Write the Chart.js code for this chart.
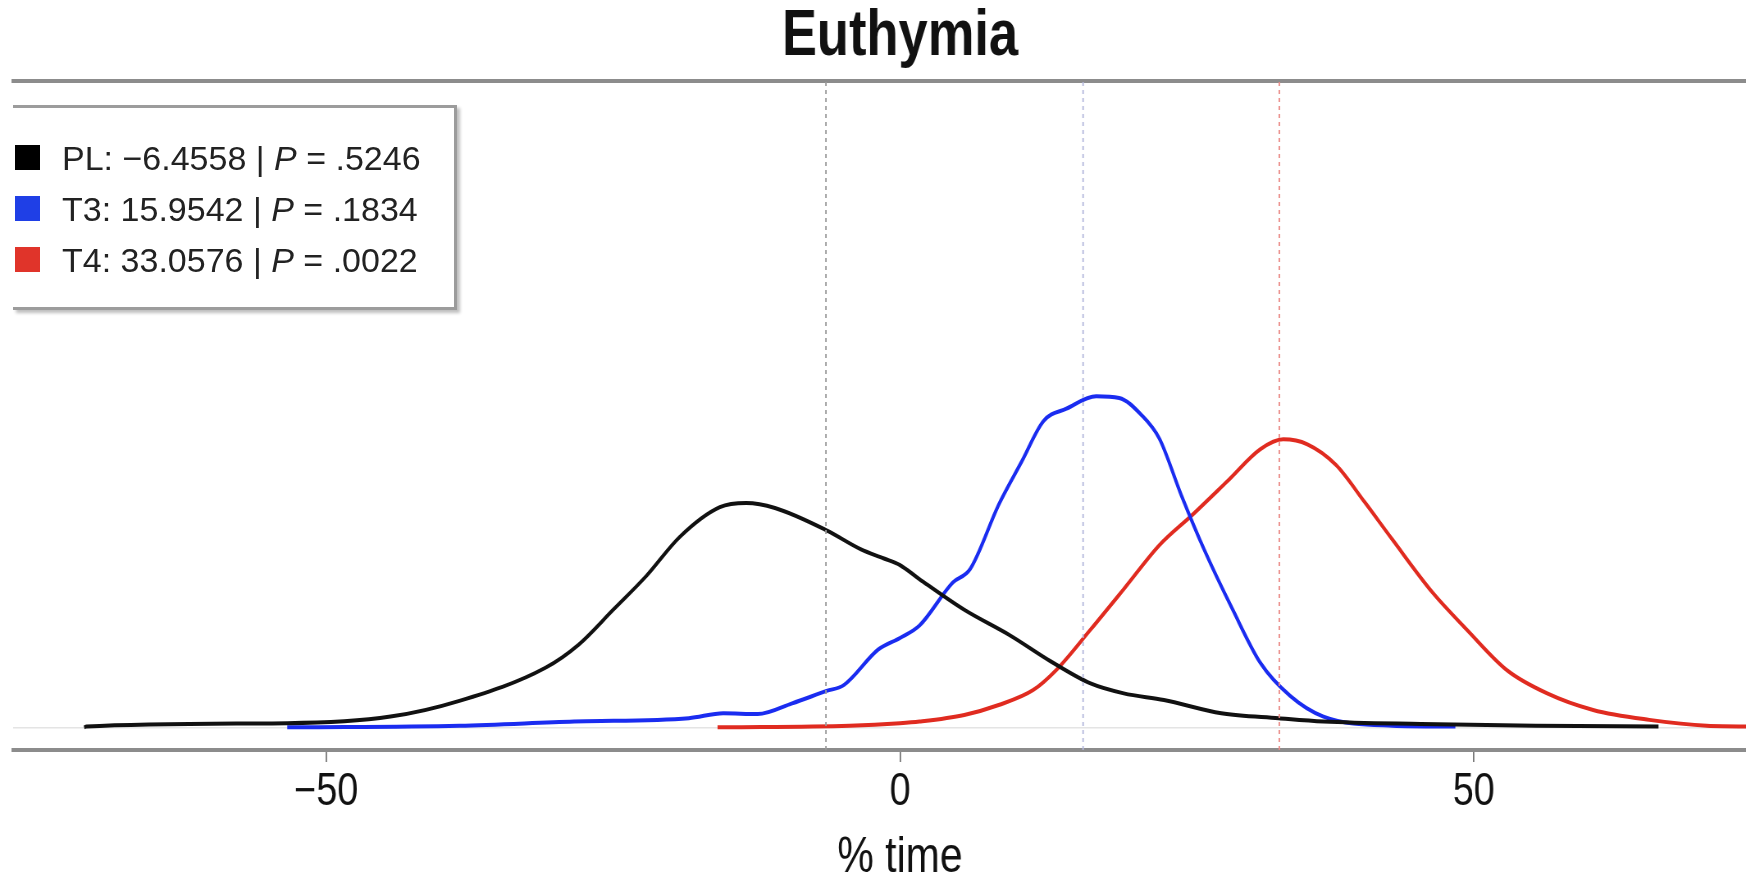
<!DOCTYPE html>
<html>
<head>
<meta charset="utf-8">
<title>Euthymia</title>
<script src="https://cdn.jsdelivr.net/npm/chart.js@4.4.1/dist/chart.umd.min.js"></script>
<style>
    body { margin: 0; background: #fff; overflow: hidden; }
    #wrap { position: relative; width: 1746px; height: 883px; overflow: hidden; }
    #legendBox {
        position: absolute; left: 13px; top: 105px; width: 441px; height: 199px;
        border: 3px solid #9c9c9c; border-left: none; background: #fff;
        box-shadow: 3px 3px 3px rgba(0,0,0,0.25);
        font-family: "Liberation Sans", Arial, sans-serif; font-size: 34px; color: #222;
    }
    .row { position: absolute; left: 0; height: 50px; line-height: 50px; white-space: nowrap; }
    .sw { position: absolute; left: 2px; top: 12px; width: 25px; height: 25px; }
    .txt { position: absolute; left: 49px; top: 0; }
</style>
</head>
<body>
<div id="wrap">
    <!-- the original plot is cut off on the right; drawn wider and shown narrower so the lettering is condensed -->
    <canvas id="densityChart" width="2179" height="883" style="width:1787px;height:883px"></canvas>
    <div id="legendBox"></div>
</div>
<script>
// series summary (legend)
const seriesNames = ["PL", "T3", "T4"];
const seriesMeans = [-6.4558, 15.9542, 33.0576];
const seriesP = [".5246", ".1834", ".0022"];
const lineColors = ["#111111", "#1a2cf0", "#e02b20"];
const swatchColors = ["#000000", "#1f3fe6", "#e0342a"];
const meanLineColors = ["#9a9a9a", "#b4b8dc", "#ea8a86"];

// density curves (x = % time, y = density)
const plX = [-71.1, -70.9, -53.4, -44.4, -38.4, -30.9, -28.0, -25.0, -22.1, -19.2, -15.7, -13.4, -10.9, -6.4, -3.4, -1.4, 0, 1.7, 5.6, 9.6, 13.1, 16.6, 19.5, 23.0, 28.0, 33.0, 36.9, 45.4, 55.4, 66.1];
const plY = [0, 0.0001, 0.0005, 0.0013, 0.0032, 0.0072, 0.0100, 0.0142, 0.0183, 0.0230, 0.0266, 0.0271, 0.0265, 0.0238, 0.0215, 0.0204, 0.0196, 0.0179, 0.0142, 0.0111, 0.0080, 0.0053, 0.0041, 0.0033, 0.0017, 0.0011, 0.0007, 0.0004, 0.0002, 0.0001];

const t3X = [-53.4, -38.4, -28.4, -18.4, -15.4, -12.4, -9.4, -6.4, -4.9, -1.9, 0, 1.7, 4.6, 6.1, 8.6, 10.6, 12.5, 14.5, 17.1, 19.1, 21.0, 22.6, 24.5, 26.5, 29.0, 31.4, 34.0, 36.9, 42.9, 48.4];
const t3Y = [0, 0.0002, 0.0007, 0.0011, 0.0017, 0.0016, 0.0029, 0.0044, 0.0051, 0.0094, 0.0108, 0.0123, 0.0175, 0.0191, 0.0269, 0.0321, 0.0370, 0.0385, 0.0400, 0.0398, 0.0378, 0.0349, 0.0281, 0.0215, 0.0142, 0.0078, 0.0038, 0.0013, 0.0002, 0.0001];

const t4X = [-15.9, -4.4, 0, 1.7, 5.6, 8.6, 11.6, 13.6, 16.6, 19.5, 22.6, 25.5, 28.5, 31.4, 33.4, 35.5, 38.0, 40.5, 42.9, 46.4, 49.4, 52.9, 56.4, 60.4, 65.3, 70.3, 75.0];
const t4Y = [0, 0.0002, 0.0005, 0.0007, 0.0015, 0.0027, 0.0045, 0.0069, 0.0118, 0.0167, 0.0220, 0.0257, 0.0297, 0.0336, 0.0348, 0.0342, 0.0317, 0.0272, 0.0227, 0.0163, 0.0118, 0.0069, 0.0041, 0.0021, 0.0009, 0.0002, 0.0001];

const xTicks = [-50, 0, 50];
const xMin = -77.3, xMax = 77.3;
const yMin = -0.00274, yMax = 0.0781;

const squeeze = 1787 / 2179;

const toPoints = (xs, ys) => xs.map((x, i) => ({ x: x, y: ys[i] }));
const curves = [toPoints(plX, plY), toPoints(t3X, t3Y), toPoints(t4X, t4Y)];

const font = "'Liberation Sans', Arial, sans-serif";

// dotted lines at each mean
const meanSets = seriesMeans.map((m, i) => ({
    type: "line",
    data: [{ x: m, y: yMin }, { x: m, y: yMax }],
    borderColor: meanLineColors[i],
    borderWidth: 1.5 / squeeze,
    borderDash: [4, 4],
    pointRadius: 0,
}));

const curveSets = curves.map((pts, i) => ({
    type: "line",
    label: seriesNames[i],
    data: pts,
    borderColor: lineColors[i],
    borderWidth: 4,
    pointRadius: 0,
    cubicInterpolationMode: "monotone",
}));

const ctx = document.getElementById("densityChart").getContext("2d");

new Chart(ctx, {
    type: "line",
    data: { datasets: meanSets.concat(curveSets) },
    options: {
        responsive: false,
        animation: false,
        layout: { padding: { left: 13 / squeeze, right: 0, top: 0, bottom: 0 } },
        plugins: {
            legend: { display: false },
            tooltip: { enabled: false },
            title: {
                display: true,
                text: "Euthymia",
                color: "#111",
                font: { family: font, size: 64, weight: "bold", lineHeight: 1 },
                padding: { top: 5, bottom: 12 },
            },
        },
        scales: {
            x: {
                type: "linear",
                min: xMin,
                max: xMax,
                afterBuildTicks: (axis) => {
                    axis.ticks = xTicks.map((v) => ({ value: v }));
                },
                border: { display: true, color: "#8c8c8c", width: 4 },
                grid: { drawOnChartArea: false, drawTicks: true, tickLength: 12, color: "#777", lineWidth: 1.8 },
                ticks: {
                    color: "#111",
                    padding: 7,
                    maxRotation: 0,
                    font: { family: font, size: 46, lineHeight: 1 },
                    callback: (v) => (v < 0 ? "\u2212" + Math.abs(v) : String(v)),
                },
                title: {
                    display: true,
                    text: "% time",
                    color: "#111",
                    font: { family: font, size: 50, lineHeight: 1 },
                    padding: { top: 11, bottom: 0 },
                },
            },
            x2: {
                type: "linear",
                position: "top",
                min: xMin,
                max: xMax,
                border: { display: true, color: "#8c8c8c", width: 4 },
                grid: { drawOnChartArea: false, drawTicks: false },
                ticks: { display: false },
            },
            y: {
                min: yMin,
                max: yMax,
                afterBuildTicks: (axis) => {
                    axis.ticks = [{ value: 0 }];
                },
                border: { display: false },
                grid: { drawTicks: false, color: "#e4e4e4", lineWidth: 1.5 },
                ticks: { display: false },
            },
        },
    },
});

// legend box in the top-left corner of the plot
const legendBox = document.getElementById("legendBox");
seriesNames.forEach((name, i) => {
    const row = document.createElement("div");
    row.className = "row";
    row.style.top = (25 + i * 51) + "px";
    const m = seriesMeans[i];
    const meanText = (m < 0 ? "\u2212" : "") + Math.abs(m).toFixed(4);
    row.innerHTML =
        '<span class="sw" style="background:' + swatchColors[i] + '"></span>' +
        '<span class="txt">' + name + ": " + meanText + " | <i>P</i> = " + seriesP[i] + "</span>";
    legendBox.appendChild(row);
});
</script>
</body>
</html>
